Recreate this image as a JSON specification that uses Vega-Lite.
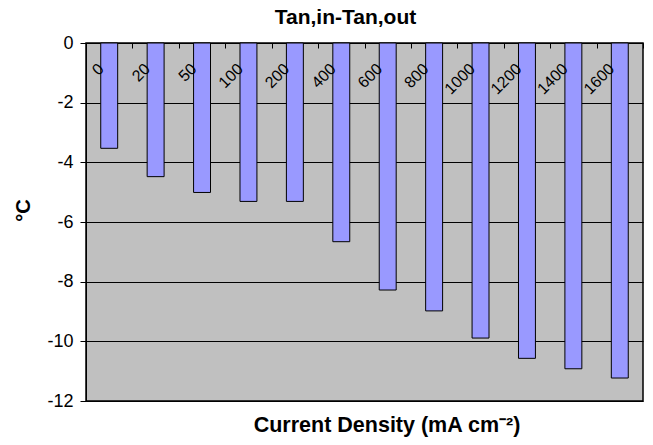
{
  "$schema": "https://vega.github.io/schema/vega-lite/v6.json",
  "width": 557,
  "height": 358,
  "autosize": "none",
  "padding": {"left": 86, "top": 43, "right": 10, "bottom": 44},
  "background": "white",
  "title": {
    "text": "Tan,in-Tan,out",
    "font": "Liberation Sans",
    "fontSize": 21,
    "fontWeight": "bold",
    "color": "black",
    "anchor": "middle",
    "frame": "group",
    "dx": -19,
    "dy": 11,
    "baseline": "alphabetic",
    "offset": 0
  },
  "data": {
    "values": [
      {"density": "0", "dT": -3.53},
      {"density": "20", "dT": -4.48},
      {"density": "50", "dT": -5.01},
      {"density": "100", "dT": -5.31},
      {"density": "200", "dT": -5.31},
      {"density": "400", "dT": -6.66},
      {"density": "600", "dT": -8.28},
      {"density": "800", "dT": -8.98},
      {"density": "1000", "dT": -9.89},
      {"density": "1200", "dT": -10.57},
      {"density": "1400", "dT": -10.92},
      {"density": "1600", "dT": -11.23}
    ]
  },
  "mark": {
    "type": "bar",
    "fill": "#9999FF",
    "stroke": "black",
    "strokeWidth": 1,
    "width": {"band": 0.365}
  },
  "encoding": {
    "x": {
      "field": "density",
      "type": "nominal",
      "sort": null,
      "scale": {"paddingInner": 0, "paddingOuter": 0},
      "axis": {
        "orient": "bottom",
        "offset": -358,
        "zindex": 1,
        "domain": false,
        "grid": false,
        "tickBand": "extent",
        "tickSize": 5,
        "tickColor": "black",
        "labelAngle": -45,
        "labelAlign": "right",
        "labelBaseline": "middle",
        "labelOffset": -8.5,
        "labelPadding": 18,
        "labelFont": "Liberation Sans",
        "labelFontSize": 16,
        "labelColor": "black",
        "title": "Current Density (mA cm⁻²)",
        "titleFont": "Liberation Sans",
        "titleFontSize": 21.5,
        "titleFontWeight": "bold",
        "titleColor": "black",
        "titleX": 300.5,
        "titleY": 382,
        "titleAlign": "center",
        "titleBaseline": "middle"
      }
    },
    "y": {
      "field": "dT",
      "type": "quantitative",
      "scale": {"domain": [-12, 0], "nice": false},
      "axis": {
        "values": [0, -2, -4, -6, -8, -10, -12],
        "labelExpr": "'' + datum.value",
        "grid": true,
        "gridColor": "black",
        "gridOpacity": 1,
        "gridWidth": 1,
        "domain": true,
        "domainColor": "black",
        "tickColor": "black",
        "tickSize": 6,
        "labelPadding": 7,
        "labelFont": "Liberation Sans",
        "labelFontSize": 18,
        "labelColor": "black",
        "title": "°C",
        "titleFont": "Liberation Sans",
        "titleFontSize": 20,
        "titleFontWeight": "bold",
        "titleColor": "black",
        "titleX": -63,
        "titleY": 167,
        "titleAlign": "center",
        "titleBaseline": "middle",
        "titleAngle": -90
      }
    }
  },
  "config": {
    "view": {"fill": "#C0C0C0", "stroke": "black", "strokeWidth": 1.5}
  }
}
